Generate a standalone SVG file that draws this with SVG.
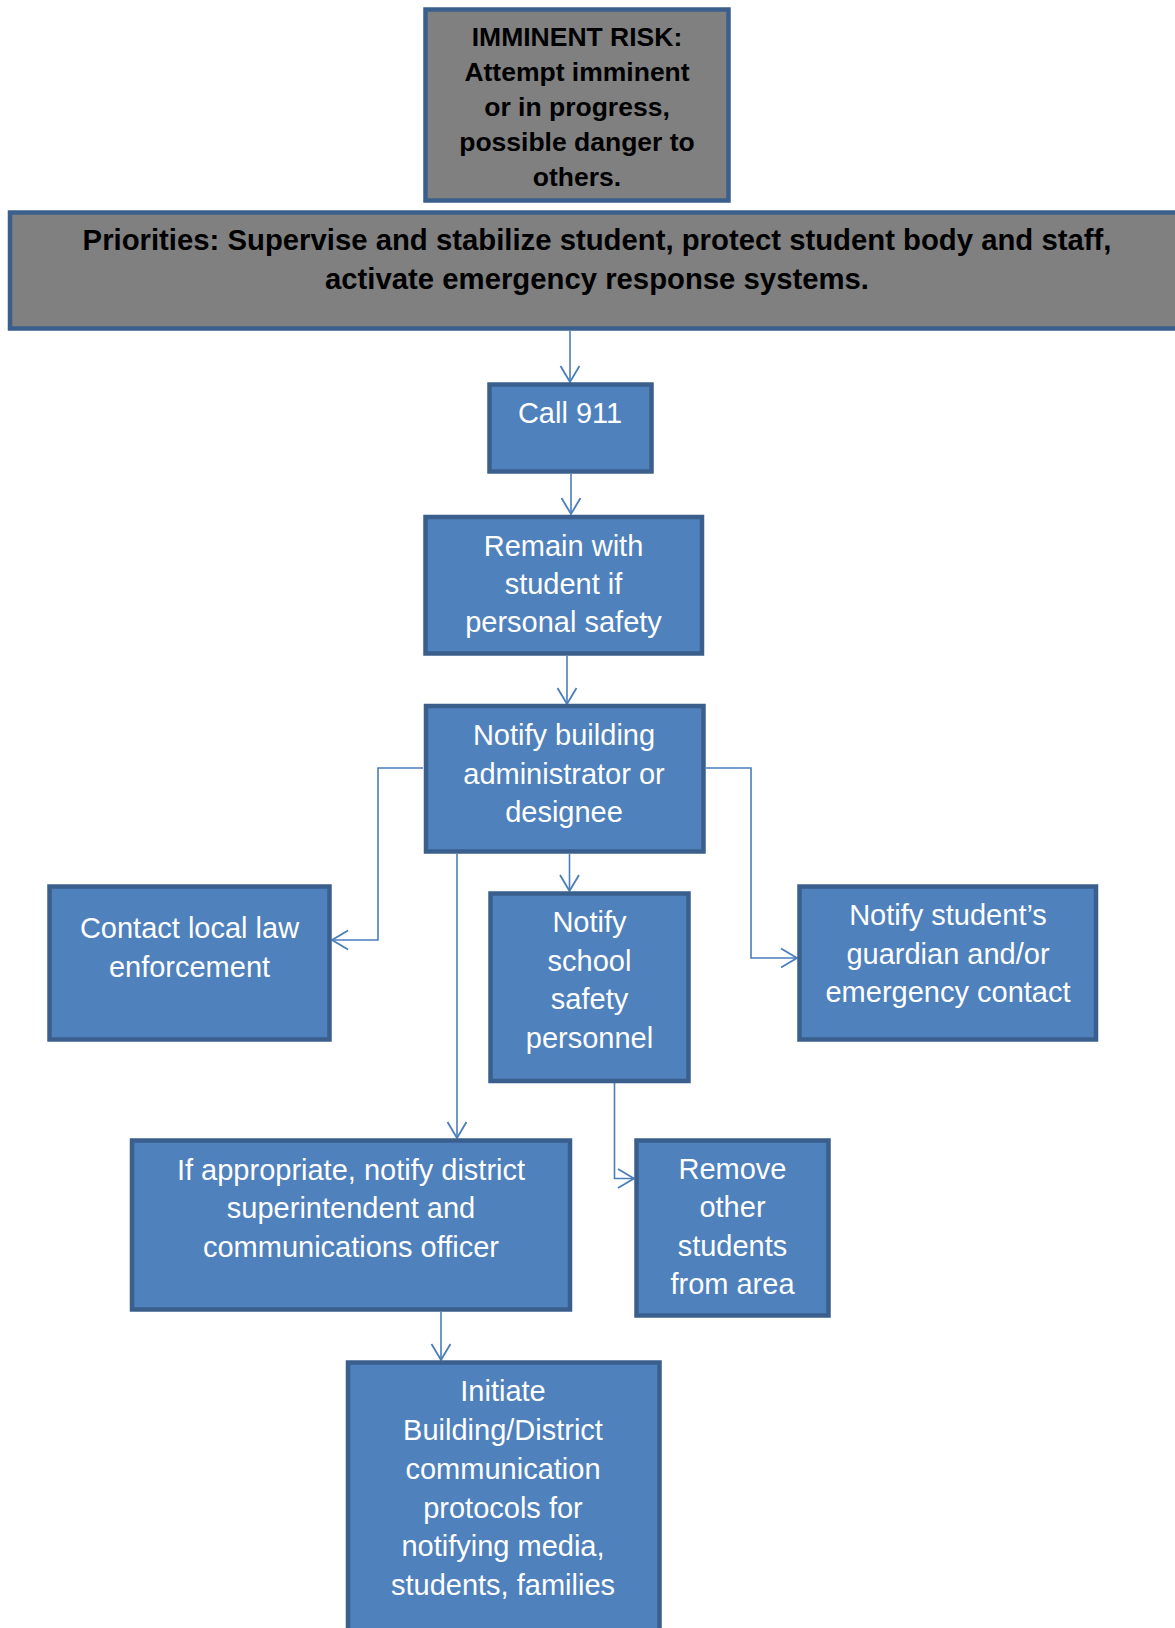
<svg xmlns="http://www.w3.org/2000/svg" width="1175" height="1628" viewBox="0 0 1175 1628">
<defs>
<style>
.b{fill:#4F81BD;stroke:#3A5F8D;stroke-width:4.5}
.g{fill:#808080;stroke:#3A5F8D;stroke-width:4.5}
.t{font-family:"Liberation Sans",Arial,sans-serif;font-size:29px;fill:#FFFFFF;text-anchor:middle}
.k{font-family:"Liberation Sans",Arial,sans-serif;font-weight:bold;fill:#000000;text-anchor:middle}
.c{fill:none;stroke:#4A7EBB;stroke-width:1.6}
</style>
<marker id="ah" markerUnits="userSpaceOnUse" markerWidth="20" markerHeight="24" viewBox="-18 -11 20 22" refX="0" refY="0" orient="auto" overflow="visible">
<path d="M-16,-9.5 L0,0 L-16,9.5" fill="none" stroke="#4A7EBB" stroke-width="1.8"/>
</marker>
</defs>
<rect width="1175" height="1628" fill="#FFFFFF"/>
<g id="connectors">
<path class="c" d="M570,331 V382" marker-end="url(#ah)"/>
<path class="c" d="M571,474 V514" marker-end="url(#ah)"/>
<path class="c" d="M567,656 V704" marker-end="url(#ah)"/>
<path class="c" d="M423,768 H378 V940 H332" marker-end="url(#ah)"/>
<path class="c" d="M706,768 H751 V958 H797" marker-end="url(#ah)"/>
<path class="c" d="M569.5,854 V891" marker-end="url(#ah)"/>
<path class="c" d="M457,854 V1138" marker-end="url(#ah)"/>
<path class="c" d="M614.5,1083 V1178.5 H634" marker-end="url(#ah)"/>
<path class="c" d="M441,1312 V1360" marker-end="url(#ah)"/>
</g>
<g id="imminent">
<rect class="g" x="425.5" y="9.5" width="303" height="191"/>
<text class="k" font-size="26.5"><tspan x="577" y="46">IMMINENT RISK:</tspan><tspan x="577" y="81">Attempt imminent</tspan><tspan x="577" y="116">or in progress,</tspan><tspan x="577" y="151">possible danger to</tspan><tspan x="577" y="186">others.</tspan></text>
</g>
<g id="priorities">
<rect class="g" x="10" y="212.5" width="1200" height="116"/>
<text class="k" font-size="29.3"><tspan x="597" y="250">Priorities: Supervise and stabilize student, protect student body and staff,</tspan><tspan x="597" y="289">activate emergency response systems.</tspan></text>
</g>
<g id="call911">
<rect class="b" x="489.5" y="384.5" width="162" height="87"/>
<text class="t" x="570" y="423">Call 911</text>
</g>
<g id="remain">
<rect class="b" x="425.5" y="517" width="276.5" height="136.5"/>
<text class="t"><tspan x="563.5" y="555.5">Remain with</tspan><tspan x="563.5" y="594">student if</tspan><tspan x="563.5" y="632">personal safety</tspan></text>
</g>
<g id="notify-admin">
<rect class="b" x="426" y="706" width="277.5" height="145.5"/>
<text class="t"><tspan x="564" y="745">Notify building</tspan><tspan x="564" y="784">administrator or</tspan><tspan x="564" y="822">designee</tspan></text>
</g>
<g id="contact-law">
<rect class="b" x="49.5" y="886.5" width="280" height="153"/>
<text class="t"><tspan x="189.5" y="937.5">Contact local law</tspan><tspan x="189.5" y="976.5">enforcement</tspan></text>
</g>
<g id="notify-safety">
<rect class="b" x="490.5" y="893.5" width="198" height="187.5"/>
<text class="t"><tspan x="589.5" y="932">Notify</tspan><tspan x="589.5" y="971">school</tspan><tspan x="589.5" y="1009">safety</tspan><tspan x="589.5" y="1048">personnel</tspan></text>
</g>
<g id="notify-guardian">
<rect class="b" x="799.5" y="886.5" width="296.5" height="153"/>
<text class="t"><tspan x="948" y="925">Notify student’s</tspan><tspan x="948" y="964">guardian and/or</tspan><tspan x="948" y="1002">emergency contact</tspan></text>
</g>
<g id="notify-district">
<rect class="b" x="132" y="1140.5" width="438" height="169"/>
<text class="t"><tspan x="351" y="1179.5">If appropriate, notify district</tspan><tspan x="351" y="1217.5">superintendent and</tspan><tspan x="351" y="1256.5">communications officer</tspan></text>
</g>
<g id="remove-students">
<rect class="b" x="636.5" y="1140.5" width="192" height="175"/>
<text class="t"><tspan x="732.5" y="1178.5">Remove</tspan><tspan x="732.5" y="1217">other</tspan><tspan x="732.5" y="1256">students</tspan><tspan x="732.5" y="1294">from area</tspan></text>
</g>
<g id="initiate">
<rect class="b" x="348" y="1362.5" width="311.5" height="300"/>
<text class="t"><tspan x="503" y="1401">Initiate</tspan><tspan x="503" y="1440">Building/District</tspan><tspan x="503" y="1479">communication</tspan><tspan x="503" y="1517.5">protocols for</tspan><tspan x="503" y="1556">notifying media,</tspan><tspan x="503" y="1594.5">students, families</tspan></text>
</g>
</svg>
